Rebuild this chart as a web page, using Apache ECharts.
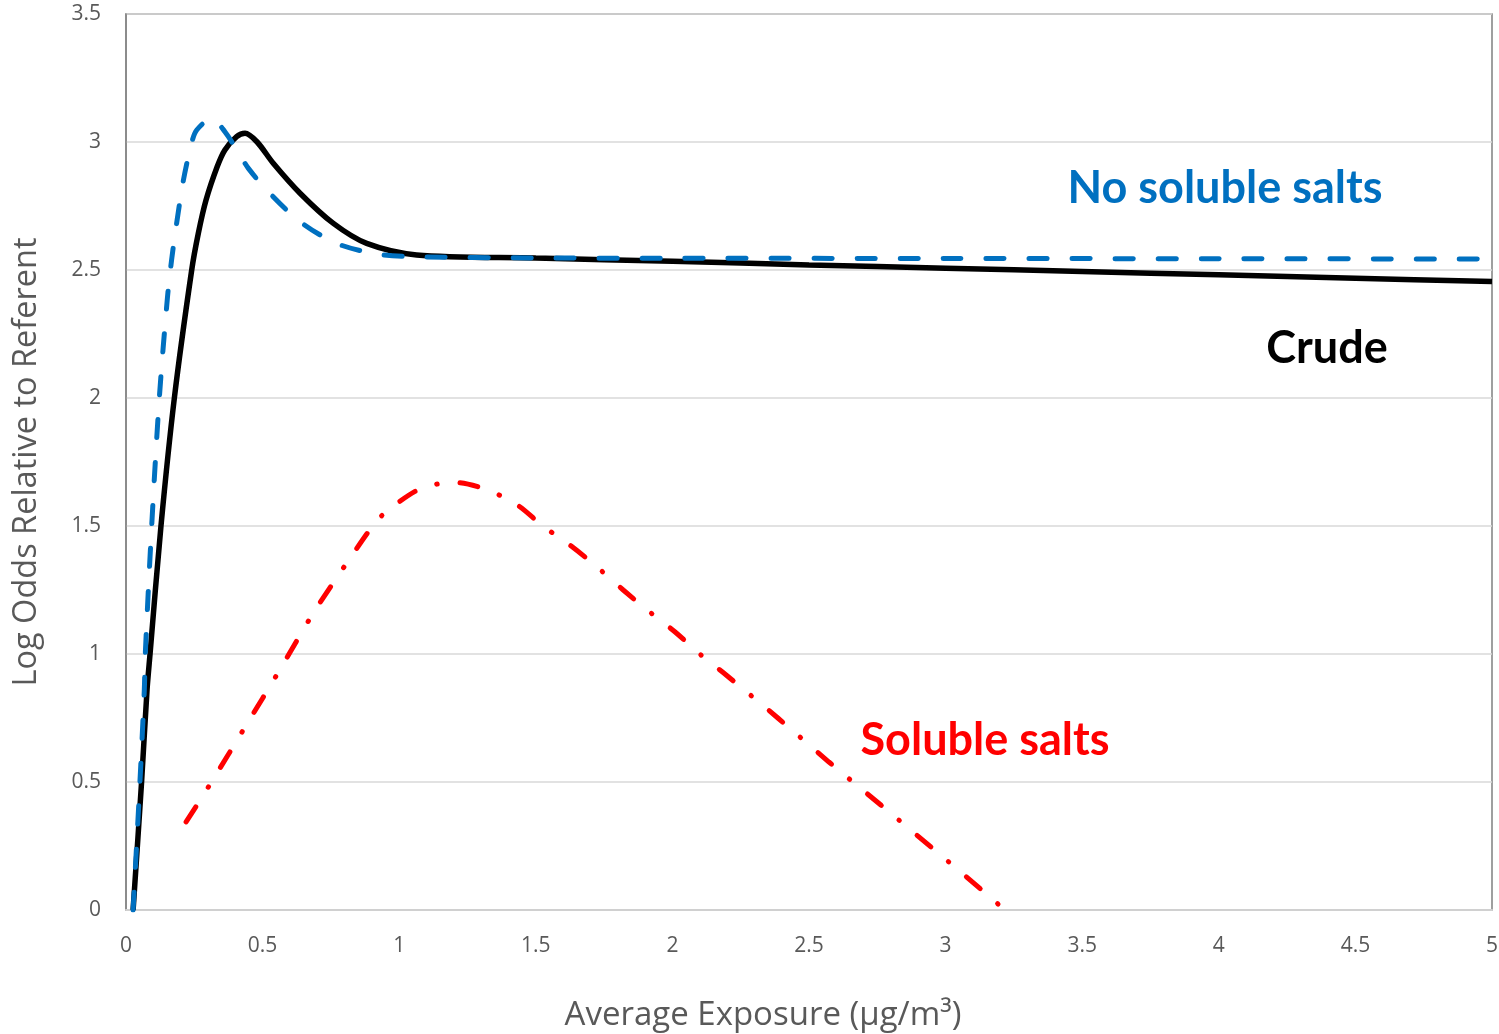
<!DOCTYPE html>
<html>
<head>
<meta charset="utf-8">
<title>Log Odds Relative to Referent</title>
<script src="https://cdn.jsdelivr.net/npm/echarts@6/dist/echarts.min.js"></script>
<style>
  html, body { margin: 0; padding: 0; background: #fff; }
  #chart { width: 1499px; height: 1034px; }
</style>
</head>
<body>
<div id="chart"></div>
<script>
// 数据：点
var crudeX = [0.026, 0.057, 0.077, 0.088, 0.128, 0.177, 0.2405, 0.2647, 0.293, 0.334, 0.362, 0.405, 0.4356, 0.48, 0.539, 0.637, 0.759, 0.881, 1.064, 1.5, 2, 2.5, 3, 3.5, 4, 4.5, 5];
var crudeY = [0, 0.5, 0.86, 1.0, 1.5, 2.0, 2.5, 2.643, 2.773, 2.904, 2.969, 3.021, 3.034, 3.0, 2.917, 2.80, 2.682, 2.604, 2.559, 2.547, 2.534, 2.52, 2.507, 2.494, 2.481, 2.468, 2.455];

var noSaltsX = [0.026, 0.051, 0.067, 0.0706, 0.094, 0.122, 0.152, 0.167, 0.185, 0.21, 0.24, 0.259, 0.314, 0.362, 0.417, 0.448, 0.515, 0.637, 0.771, 0.918, 1.052, 1.5, 2, 3, 4, 5];
var noSaltsY = [0, 0.5, 0.86, 1.0, 1.5, 2.0, 2.396, 2.54, 2.68, 2.85, 2.995, 3.047, 3.092, 3.04, 2.949, 2.897, 2.8125, 2.689, 2.604, 2.5625, 2.552, 2.547, 2.546, 2.545, 2.544, 2.543];

var saltsX = [0.22, 0.307, 0.436, 0.564, 0.688, 0.824, 0.918, 0.981, 1.087, 1.208, 1.325, 1.435, 1.526, 1.632, 1.724, 1.82, 1.91, 2.01, 2.10, 2.2, 2.386, 2.573, 2.763, 2.95, 3.137, 3.217];
var saltsY = [0.344, 0.49, 0.715, 0.94, 1.164, 1.38, 1.52, 1.58, 1.65, 1.67, 1.64, 1.58, 1.50, 1.42, 1.34, 1.25, 1.17, 1.086, 1.00, 0.915, 0.75, 0.578, 0.41, 0.243, 0.074, 0.0];

function pairs(xs, ys) {
    return xs.map(function (x, i) { return [x, ys[i]]; });
}

var myChart = echarts.init(document.getElementById('chart'));

var option = {
    animation: false,
    backgroundColor: '#fff',
    grid: {
        left: 126, top: 14, right: 7, bottom: 124,
        outerBoundsMode: 'none',
        containLabel: false,
        show: true, borderColor: '#808080', borderWidth: 1.5
    },
    xAxis: {
        type: 'value',
        min: 0, max: 5, interval: 0.5,
        name: 'Average Exposure (µg/m³)',
        nameLocation: 'middle',
        nameGap: 89,
        nameTextStyle: { fontFamily: 'Open Sans', fontSize: 33, color: '#595959', padding: [0, 92, 0, 0] },
        axisLine: { show: true, lineStyle: { color: '#d0d0d0', width: 2 } },
        axisTick: { show: false },
        splitLine: { show: false },
        axisLabel: { fontFamily: 'Open Sans', fontSize: 21, color: '#595959', margin: 26 }
    },
    yAxis: {
        type: 'value',
        min: 0, max: 3.5, interval: 0.5,
        name: 'Log Odds Relative to Referent',
        nameLocation: 'middle',
        nameGap: 83,
        nameRotate: 90,
        nameTextStyle: { fontFamily: 'Open Sans', fontSize: 32.5, color: '#595959' },
        axisLine: { show: true, lineStyle: { color: '#868686', width: 1.5 } },
        axisTick: { show: false },
        splitLine: { show: true, lineStyle: { color: '#d9d9d9', width: 1.5 } },
        axisLabel: { fontFamily: 'Open Sans', fontSize: 21, color: '#595959', margin: 25 }
    },
    series: [
        {
            name: 'Crude',
            type: 'line',
            smooth: 0.3,
            showSymbol: false,
            data: pairs(crudeX, crudeY),
            lineStyle: { color: '#000000', width: 5.5 },
            z: 3
        },
        {
            name: 'No soluble salts',
            type: 'line',
            smooth: 0.3,
            showSymbol: false,
            data: pairs(noSaltsX, noSaltsY),
            lineStyle: { color: '#0070C0', width: 5, type: [18, 25], cap: 'round' },
            z: 4
        },
        {
            name: 'Soluble salts',
            type: 'line',
            smooth: 0.3,
            showSymbol: false,
            data: pairs(saltsX, saltsY),
            lineStyle: { color: '#FF0000', width: 5, type: [18, 23, 0.5, 23], cap: 'round' },
            z: 2
        }
    ],
    graphic: [
        {
            type: 'text',
            style: { x: 1225, y: 188, text: 'No soluble salts', fill: '#0070C0', font: 'bold 45px Lato', textAlign: 'center', textVerticalAlign: 'middle' }
        },
        {
            type: 'text',
            style: { x: 1327, y: 348, text: 'Crude', fill: '#000000', font: 'bold 45px Lato', textAlign: 'center', textVerticalAlign: 'middle' }
        },
        {
            type: 'text',
            style: { x: 985, y: 740, text: 'Soluble salts', fill: '#FF0000', font: 'bold 45px Lato', textAlign: 'center', textVerticalAlign: 'middle' }
        }
    ]
};

myChart.setOption(option);
</script>
</body>
</html>
